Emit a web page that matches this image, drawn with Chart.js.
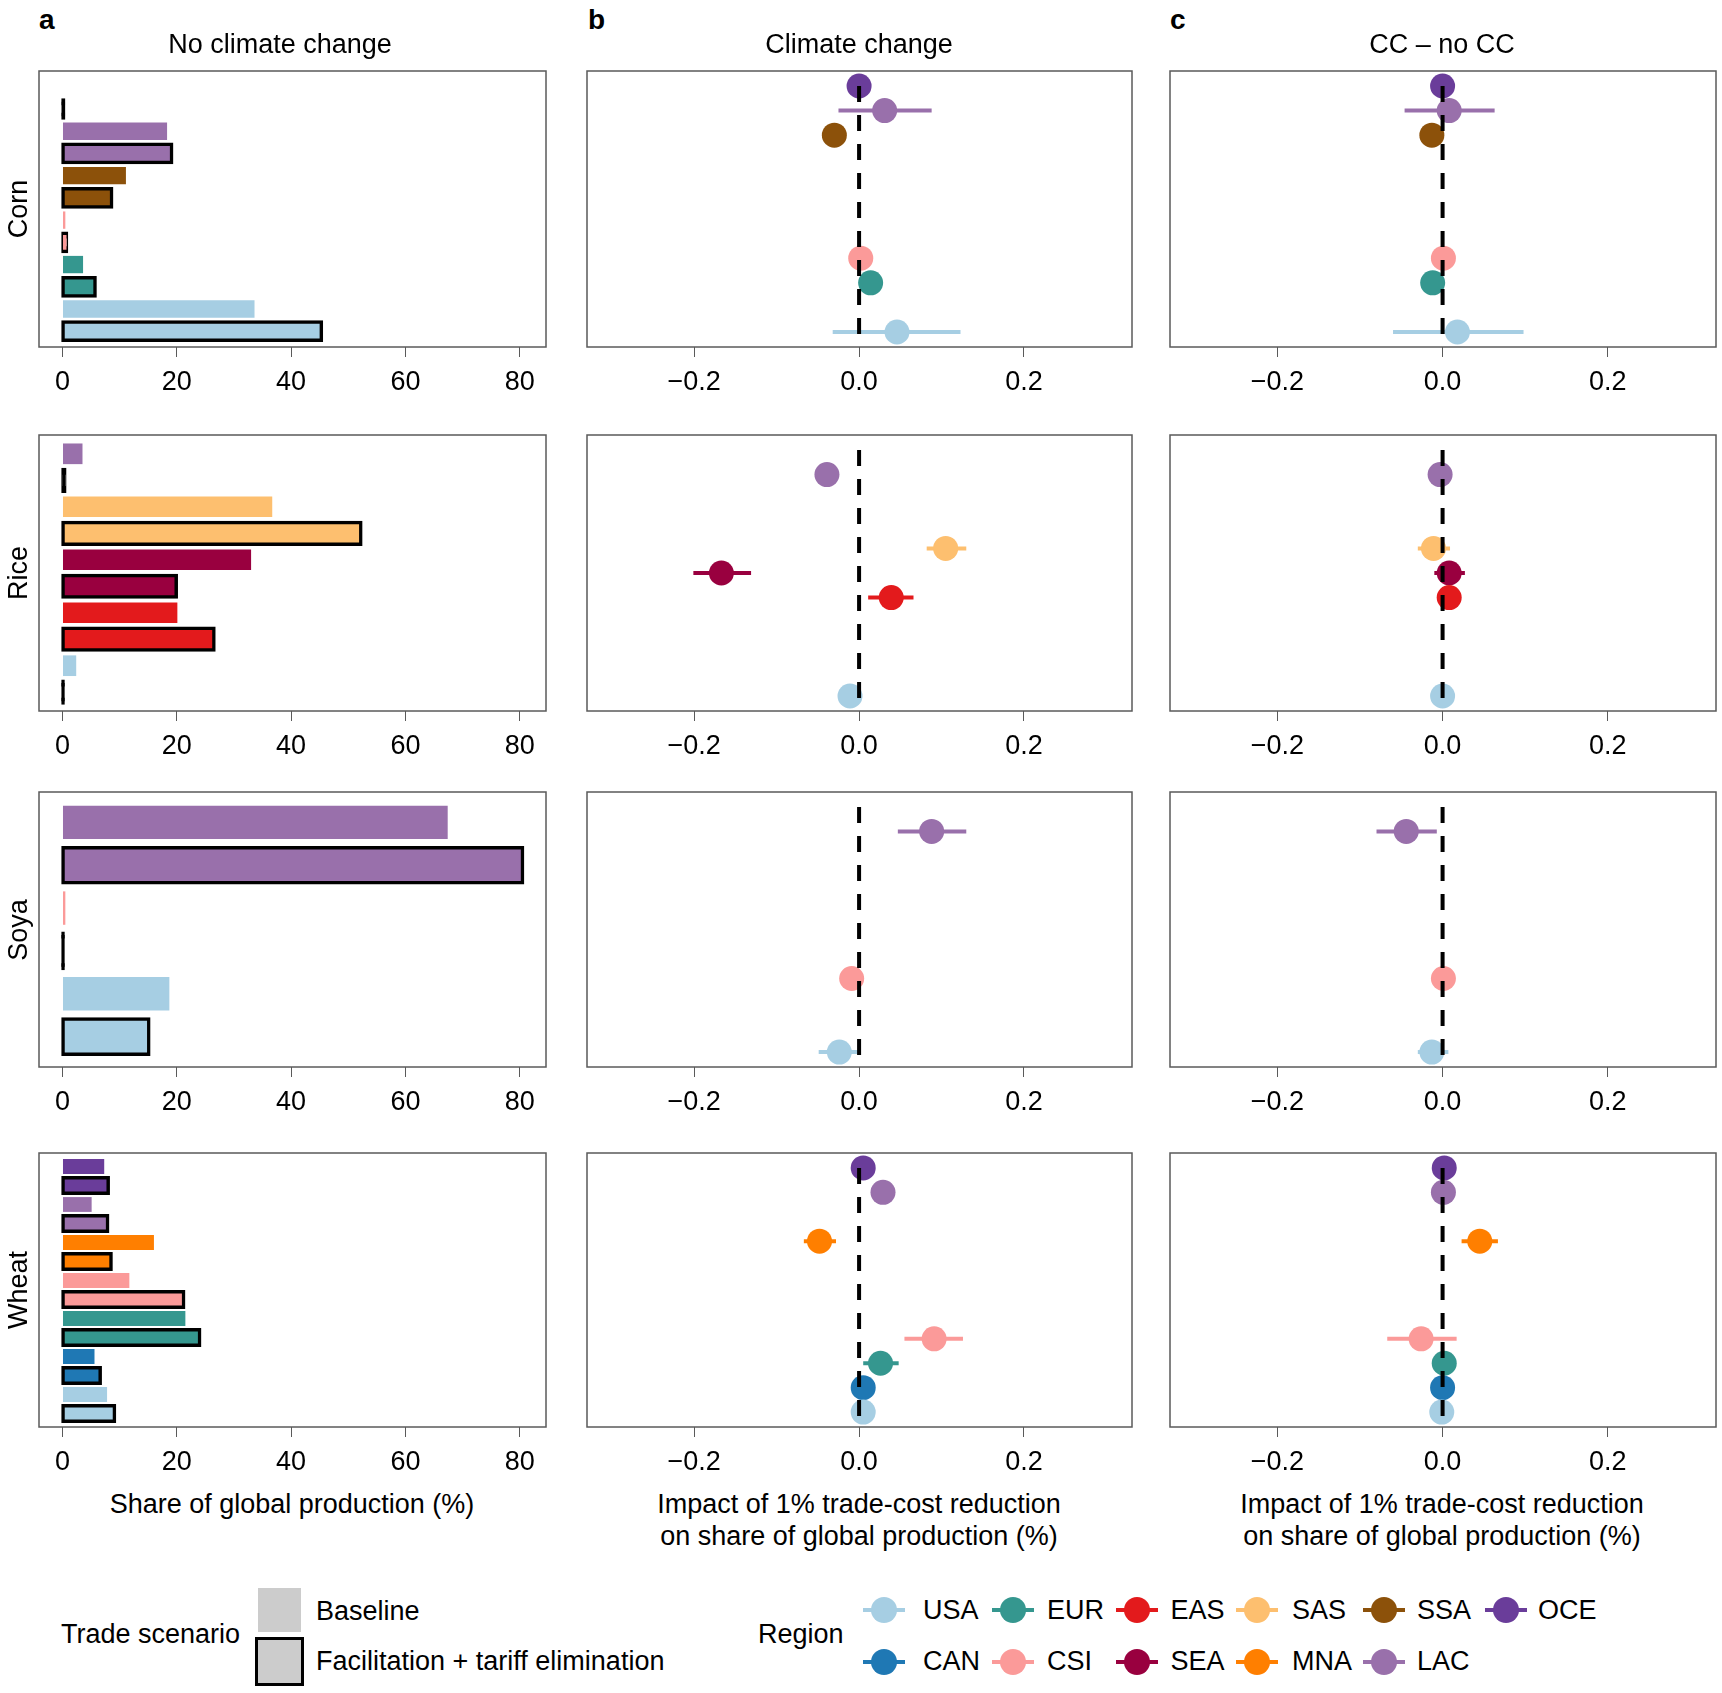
<!DOCTYPE html>
<html>
<head>
<meta charset="utf-8">
<title>Trade-cost reduction and share of global production</title>
<script src="https://cdn.jsdelivr.net/npm/chart.js@4.4.1/dist/chart.umd.min.js"></script>
<style>
  html, body { margin: 0; padding: 0; background: #fff; }
  #fig { position: relative; width: 1722px; height: 1693px; overflow: hidden;
         font-family: 'Liberation Sans', Arial, Helvetica, sans-serif; color: #000; }
  #fig canvas { position: absolute; }
  .txt { position: absolute; white-space: nowrap; }
  .sw { position: absolute; box-sizing: border-box; }
</style>
</head>
<body>
<div id="fig"></div>
<script>
// ---------------- data ----------------
const regions = ['USA', 'CAN', 'EUR', 'CSI', 'EAS', 'SEA', 'SAS', 'MNA', 'SSA', 'LAC', 'OCE'];
const regionColors = ['#a6cee3', '#1f78b4', '#35978f', '#fb9a99', '#e31a1c', '#99003f',
                      '#fdbf6f', '#ff7f00', '#8c510a', '#9970ab', '#6a3d9a'];
const crops = ['Corn', 'Rice', 'Soya', 'Wheat'];

const shareTicks = [0, 20, 40, 60, 80];
const impactTicks = [-0.2, 0, 0.2];

// a: share of global production (%), regions listed top to bottom
const cornRegions = ['OCE', 'LAC', 'SSA', 'CSI', 'EUR', 'USA'];
const cornBaseline = [0, 18.3, 11.1, 0.5, 3.6, 33.6];
const cornFacil = [0.2, 19.1, 8.6, 0.7, 5.7, 45.3];
const riceRegions = ['LAC', 'SAS', 'SEA', 'EAS', 'USA'];
const riceBaseline = [3.5, 36.7, 33.0, 20.1, 2.4];
const riceFacil = [0.4, 52.2, 19.9, 26.5, 0.1];
const soyaRegions = ['LAC', 'CSI', 'USA'];
const soyaBaseline = [67.4, 0.5, 18.7];
const soyaFacil = [80.5, 0.1, 15.1];
const wheatRegions = ['OCE', 'LAC', 'MNA', 'CSI', 'EUR', 'CAN', 'USA'];
const wheatBaseline = [7.3, 5.1, 16.0, 11.7, 21.5, 5.6, 7.8];
const wheatFacil = [8.0, 7.9, 8.5, 21.2, 24.0, 6.6, 9.1];

// b: impact of 1% trade-cost reduction, climate change (mean, low, high)
const cornCC   = [0.000, 0.031, -0.030, 0.002, 0.014, 0.046];
const cornCCLo = [0.000, -0.025, -0.030, 0.002, 0.014, -0.032];
const cornCCHi = [0.000, 0.088, -0.030, 0.002, 0.014, 0.123];
const riceCC   = [-0.039, 0.105, -0.167, 0.039, -0.011];
const riceCCLo = [-0.039, 0.082, -0.201, 0.011, -0.011];
const riceCCHi = [-0.039, 0.130, -0.131, 0.066, -0.011];
const soyaCC   = [0.088, -0.009, -0.024];
const soyaCCLo = [0.047, -0.009, -0.049];
const soyaCCHi = [0.130, -0.009, 0.002];
const wheatCC   = [0.005, 0.029, -0.048, 0.091, 0.026, 0.005, 0.005];
const wheatCCLo = [0.005, 0.029, -0.067, 0.055, 0.005, 0.005, 0.005];
const wheatCCHi = [0.005, 0.029, -0.028, 0.126, 0.048, 0.005, 0.005];

// c: CC - no CC (mean, low, high)
const cornDiff   = [0.000, 0.008, -0.013, 0.001, -0.012, 0.018];
const cornDiffLo = [0.000, -0.046, -0.013, 0.001, -0.012, -0.060];
const cornDiffHi = [0.000, 0.063, -0.013, 0.001, -0.012, 0.098];
const riceDiff   = [-0.003, -0.011, 0.008, 0.008, 0.000];
const riceDiffLo = [-0.003, -0.030, -0.010, 0.008, 0.000];
const riceDiffHi = [-0.003, 0.009, 0.027, 0.008, 0.000];
const soyaDiff   = [-0.044, 0.001, -0.013];
const soyaDiffLo = [-0.080, 0.001, -0.030];
const soyaDiffHi = [-0.007, 0.001, 0.007];
const wheatDiff   = [0.002, 0.001, 0.045, -0.026, 0.002, 0.000, -0.001];
const wheatDiffLo = [0.002, 0.001, 0.023, -0.067, 0.002, 0.000, -0.001];
const wheatDiffHi = [0.002, 0.001, 0.067, 0.017, 0.002, 0.000, -0.001];

const cropTable = [
  { regions: cornRegions, base: cornBaseline, facil: cornFacil,
    cc: [cornCC, cornCCLo, cornCCHi], diff: [cornDiff, cornDiffLo, cornDiffHi] },
  { regions: riceRegions, base: riceBaseline, facil: riceFacil,
    cc: [riceCC, riceCCLo, riceCCHi], diff: [riceDiff, riceDiffLo, riceDiffHi] },
  { regions: soyaRegions, base: soyaBaseline, facil: soyaFacil,
    cc: [soyaCC, soyaCCLo, soyaCCHi], diff: [soyaDiff, soyaDiffLo, soyaDiffHi] },
  { regions: wheatRegions, base: wheatBaseline, facil: wheatFacil,
    cc: [wheatCC, wheatCCLo, wheatCCHi], diff: [wheatDiff, wheatDiffLo, wheatDiffHi] }
];

// ---------------- layout ----------------
const family = "'Liberation Sans', Arial, Helvetica, sans-serif";
const FS = 27;
Chart.defaults.font.family = family;
const fig = document.getElementById('fig');
const colL = [39, 587, 1170], colR = [546, 1132, 1716];
const rowT = [71, 435, 792, 1153], rowB = [347, 711, 1067, 1427];
const PAD = 16, AXIS_H = 60;
const SLOT_MARGIN = 0.71, DOT_MARGIN = 0.61;

const colorOf = r => regionColors[regions.indexOf(r)];

function makeCanvas(ci, ri) {
  const c = document.createElement('canvas');
  const w = colR[ci] - colL[ci] + 2 * PAD;
  const h = rowB[ri] - rowT[ri] + PAD + AXIS_H;
  c.width = w; c.height = h;
  c.style.left = (colL[ci] - PAD) + 'px';
  c.style.top = (rowT[ri] - PAD) + 'px';
  c.style.width = w + 'px'; c.style.height = h + 'px';
  fig.appendChild(c);
  return c;
}

const boxPlugin = {
  id: 'box',
  beforeDatasetsDraw(chart) {
    const { ctx, chartArea: a } = chart;
    ctx.save();
    ctx.strokeStyle = '#5a5a5a';
    ctx.lineWidth = 1.5;
    ctx.strokeRect(a.left, a.top, a.right - a.left, a.bottom - a.top);
    ctx.restore();
  }
};

function xScale(min, max, tickVals, fmt) {
  return {
    type: 'linear', min, max, offset: false,
    afterBuildTicks: s => { s.ticks = tickVals.map(v => ({ value: v })); },
    afterFit: s => { s.height = AXIS_H; },
    border: { display: false },
    grid: { drawOnChartArea: false, drawTicks: true, tickLength: 10, color: '#5a5a5a', lineWidth: 1 },
    ticks: { font: { family, size: FS }, color: '#000', padding: 9, autoSkip: false,
             maxRotation: 0, minRotation: 0, callback: fmt }
  };
}

function yScale(min, max, tickVals) {
  return {
    type: 'linear', min, max, offset: false, display: false,
    afterBuildTicks: s => { s.ticks = tickVals.map(v => ({ value: v })); }
  };
}

function baseOptions(x, y, indexAxis) {
  return {
    responsive: false, animation: false, devicePixelRatio: 1, indexAxis,
    layout: { padding: { left: PAD, right: PAD, top: PAD, bottom: 0 } },
    plugins: { legend: { display: false }, tooltip: { enabled: false } },
    scales: { x, y }
  };
}

// column a: horizontal bars
function sharePanel(ri, crop) {
  const canvas = makeCanvas(0, ri);
  const n = crop.regions.length * 2;
  const H = rowB[ri] - rowT[ri];
  const slot = H / (n - 1 + 2 * SLOT_MARGIN);
  const cols = crop.regions.map(colorOf);
  const slots = Array.from({ length: n }, (_, i) => i + 1);
  new Chart(canvas, {
    type: 'bar',
    data: {
      datasets: [
        { label: 'Baseline', grouped: false,
          data: crop.regions.map((r, j) => ({ x: crop.base[j], y: n - 2 * j })),
          backgroundColor: cols, borderWidth: 0, inflateAmount: 0, barThickness: slot * 0.78 },
        { label: 'Facilitation + tariff elimination', grouped: false,
          data: crop.regions.map((r, j) => ({ x: crop.facil[j], y: n - 2 * j - 1 })),
          backgroundColor: ctx => (crop.facil[ctx.dataIndex] < 0.5 ? '#000' : cols[ctx.dataIndex]),
          borderColor: '#000', borderWidth: 3.5, borderSkipped: false, inflateAmount: 1.75,
          barThickness: slot * 0.82 }
      ]
    },
    options: baseOptions(
      xScale(-4.11, 84.6, shareTicks, v => String(v)),
      yScale(1 - SLOT_MARGIN, n + SLOT_MARGIN, slots), 'y'),
    plugins: [boxPlugin]
  });
}

// columns b and c: dots with intervals
function impactPanel(ci, ri, crop, series) {
  const canvas = makeCanvas(ci, ri);
  const [mean, lo, hi] = series;
  const ys = crop.regions.map(r => regions.indexOf(r) + 1);
  const cols = crop.regions.map(colorOf);
  const fmt = v => (v < 0 ? '\u2212' : '') + Math.abs(v).toFixed(1);
  new Chart(canvas, {
    type: 'scatter',
    data: {
      datasets: [
        { type: 'line', data: [{ x: 0, y: regions.length }, { x: 0, y: 0 }],
          borderColor: '#000', borderWidth: 4, borderDash: [16, 13], pointRadius: 0, clip: 0, order: 0 },
        { type: 'scatter', data: ys.map((y, j) => ({ x: mean[j], y })),
          pointRadius: 12.5, backgroundColor: cols, pointBackgroundColor: cols,
          borderWidth: 0, pointBorderWidth: 0, order: 1 },
        { type: 'bar', indexAxis: 'y', data: ys.map((y, j) => ({ x: [lo[j], hi[j]], y })),
          backgroundColor: cols, borderWidth: 0, inflateAmount: 0, barThickness: 4, order: 2 }
      ]
    },
    options: baseOptions(
      xScale(-0.33, 0.331, impactTicks, fmt),
      yScale(1 - DOT_MARGIN, regions.length + DOT_MARGIN, regions.map((r, i) => i + 1)), 'x'),
    plugins: [boxPlugin]
  });
}

cropTable.forEach((crop, ri) => {
  sharePanel(ri, crop);
  impactPanel(1, ri, crop, crop.cc);
  impactPanel(2, ri, crop, crop.diff);
});

// ---------------- text ----------------
function addText(str, x, baseline, opt = {}) {
  const size = opt.size || FS;
  const d = document.createElement('div');
  d.className = 'txt';
  d.textContent = str;
  d.style.fontSize = size + 'px';
  d.style.lineHeight = size + 'px';
  d.style.fontWeight = opt.bold ? 'bold' : 'normal';
  d.style.left = x + 'px';
  d.style.top = (baseline - 0.85 * size) + 'px';
  if (opt.center) d.style.transform = 'translateX(-50%)';
  fig.appendChild(d);
}

function addYLabel(str, cx, cy) {
  const d = document.createElement('div');
  d.className = 'txt';
  d.textContent = str;
  d.style.fontSize = FS + 'px';
  d.style.lineHeight = FS + 'px';
  d.style.left = cx + 'px';
  d.style.top = cy + 'px';
  d.style.transform = 'translate(-50%, -50%) rotate(-90deg)';
  fig.appendChild(d);
}

addText('a', 39, 30, { bold: true, size: 28 });
addText('b', 588, 30, { bold: true, size: 28 });
addText('c', 1170, 30, { bold: true, size: 28 });
addText('No climate change', 280, 54, { center: true });
addText('Climate change', 859, 54, { center: true });
addText('CC \u2013 no CC', 1442, 54, { center: true });

crops.forEach((c, ri) => addYLabel(c, 17.5, (rowT[ri] + rowB[ri]) / 2));

addText('Share of global production (%)', 292, 1514, { center: true });
[859, 1442].forEach(cx => {
  addText('Impact of 1% trade-cost reduction', cx, 1514, { center: true });
  addText('on share of global production (%)', cx, 1546, { center: true });
});

// ---------------- legends ----------------
addText('Trade scenario', 61, 1644);
function swatch(left, top, w, h, css) {
  const d = document.createElement('div');
  d.className = 'sw';
  d.style.left = left + 'px'; d.style.top = top + 'px';
  d.style.width = w + 'px'; d.style.height = h + 'px';
  Object.assign(d.style, css);
  fig.appendChild(d);
}
swatch(258, 1588, 43, 44, { background: '#cccccc' });
swatch(255, 1637, 49, 49, { background: '#cccccc', border: '3px solid #000' });
addText('Baseline', 316, 1621);
addText('Facilitation + tariff elimination', 316, 1671);

addText('Region', 758, 1644);
const legRows = [['USA', 'EUR', 'EAS', 'SAS', 'SSA', 'OCE'], ['CAN', 'CSI', 'SEA', 'MNA', 'LAC']];
const legX = [884, 1012.5, 1136.5, 1257, 1384, 1505.5];
const legTextX = [923, 1047, 1170.5, 1292, 1417, 1538];
const legY = [1610, 1662];
const legBase = [1620, 1671];
legRows.forEach((row, k) => {
  row.forEach((r, j) => {
    const c = colorOf(r);
    swatch(legX[j] - 21, legY[k] - 2, 42, 4, { background: c });
    swatch(legX[j] - 13, legY[k] - 13, 26, 26, { background: c, borderRadius: '50%' });
    addText(r, legTextX[j], legBase[k]);
  });
});
</script>
</body>
</html>
